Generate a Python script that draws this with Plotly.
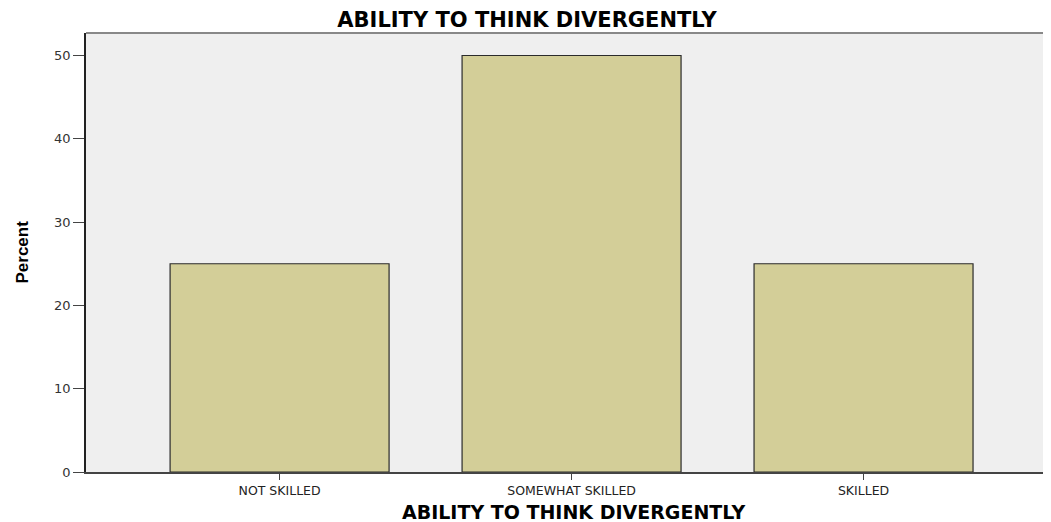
import plotly.graph_objects as go

categories = ["NOT SKILLED", "SOMEWHAT SKILLED", "SKILLED"]
percent = [25, 50, 25]
y_ticks = [0, 10, 20, 30, 40, 50]

# page has an 8px body margin; figure is sized/placed to compensate
W, H = 1043, 514
L, T, B = 78, 25, 50
plot_h = H - T - B

fig = go.Figure()
fig.add_trace(go.Bar(
    x=categories, y=percent, width=0.75,
    marker=dict(color="#D3CE98", line=dict(color="#2b2b2b", width=1.2)),
))

fig.update_layout(
    width=W, height=H,
    margin=dict(l=L, r=0, t=T, b=B),
    paper_bgcolor="white", plot_bgcolor="#EFEFEF",
    showlegend=False,
    title=dict(text="<b>ABILITY TO THINK DIVERGENTLY</b>", x=0.457, xref="paper", xanchor="center",
               y=1 - 12 / H, yref="container", yanchor="middle",
               font=dict(family="DejaVu Sans", size=21, color="#000")),
)
fig.update_xaxes(
    range=[-0.663, 2.642], showgrid=False, showline=True, linecolor="#444", linewidth=1.5,
    ticks="outside", ticklen=6, tickcolor="#444", tickwidth=1.2,
    tickfont=dict(family="DejaVu Sans", size=12.5, color="#222"),
    zeroline=False,
)
fig.update_yaxes(
    range=[0, 52.7], tickvals=y_ticks, showgrid=False, showline=True, linecolor="#222", linewidth=1.5,
    ticks="outside", ticklen=11, tickcolor="#444", tickwidth=1.2,
    tickfont=dict(family="DejaVu Sans", size=13, color="#333"),
    zeroline=False,
)
fig.add_shape(type="line", xref="paper", yref="paper", x0=0, x1=1, y0=1, y1=1,
              line=dict(color="#888", width=2))
fig.add_annotation(text="<b>ABILITY TO THINK DIVERGENTLY</b>", xref="paper", yref="paper",
                   x=0.505, y=-40 / plot_h, xanchor="center", yanchor="middle", showarrow=False,
                   font=dict(family="DejaVu Sans", size=19, color="#000"))
fig.add_annotation(text="<b>Percent</b>", xref="paper", yref="paper", textangle=-90,
                   x=-64 / (W - L), y=0.5, xanchor="center", yanchor="middle", showarrow=False,
                   font=dict(family="Liberation Sans Narrow, Liberation Sans", size=17, color="#000"))

fig.write_html("out.html")
